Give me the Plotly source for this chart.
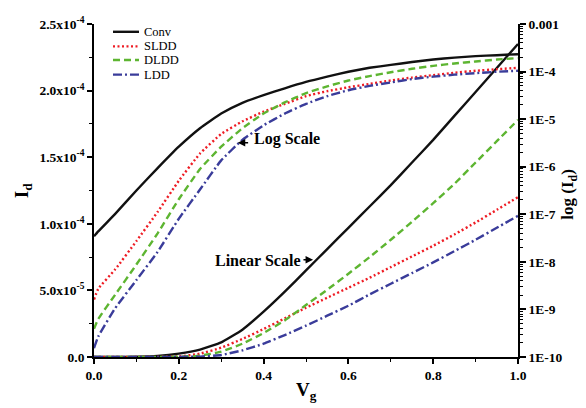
import plotly.graph_objects as go

# ---------------- data ----------------
vg_lin = [0.0, 0.05, 0.1, 0.15, 0.2, 0.25, 0.3, 0.35, 0.4, 0.45, 0.5,
          0.55, 0.6, 0.65, 0.7, 0.75, 0.8, 0.85, 0.9, 0.95, 1.0]
conv_lin = [0, 0, 2e-7, 8e-7, 2.5e-6, 5.5e-6, 1.1e-5, 2.05e-5, 3.4e-5, 4.9e-5, 6.5e-5,
            8.1e-5, 9.7e-5, 1.13e-4, 1.29e-4, 1.46e-4, 1.63e-4, 1.81e-4, 1.99e-4, 2.17e-4, 2.35e-4]
sldd_lin = [0, 0, 0, 1e-7, 4e-7, 2.5e-6, 7e-6, 1.35e-5, 2.1e-5, 2.9e-5, 3.7e-5,
            4.45e-5, 5.2e-5, 5.95e-5, 6.75e-5, 7.55e-5, 8.35e-5, 9.2e-5, 1.01e-4, 1.105e-4, 1.2e-4]
dldd_lin = [0, 0, 0, 0, 2e-7, 1e-6, 4e-6, 1.0e-5, 1.8e-5, 2.75e-5, 3.9e-5,
            5.05e-5, 6.25e-5, 7.5e-5, 8.8e-5, 1.015e-4, 1.155e-4, 1.3e-4, 1.46e-4, 1.62e-4, 1.78e-4]
ldd_lin = [0, 0, 0, 0, 1e-7, 3e-7, 1.5e-6, 5e-6, 1.0e-5, 1.65e-5, 2.35e-5,
           3.1e-5, 3.85e-5, 4.7e-5, 5.5e-5, 6.3e-5, 7.1e-5, 7.95e-5, 8.8e-5, 9.7e-5, 1.06e-4]

vg_log = [0.0, 0.01, 0.05, 0.1, 0.15, 0.2, 0.25, 0.3, 0.35, 0.4, 0.45, 0.5,
          0.55, 0.6, 0.65, 0.7, 0.75, 0.8, 0.85, 0.9, 0.95, 1.0]
conv_log = [3.45e-8, 4.37e-8, 1.02e-7, 3.16e-7, 9.34e-7, 2.64e-6, 6.45e-6, 1.31e-5, 2.2e-5, 3.2e-5,
            4.45e-5, 6.05e-5, 7.83e-5, 9.92e-5, 1.2e-4, 1.38e-4, 1.59e-4, 1.79e-4, 1.966e-4,
            2.11e-4, 2.21e-4, 2.32e-4]
sldd_log = [1.61e-9, 2.71e-9, 6.95e-9, 2.73e-8, 1.12e-7, 5.06e-7, 1.89e-6, 4.86e-6, 8.97e-6, 1.44e-5,
            2.09e-5, 3.05e-5, 3.87e-5, 4.67e-5, 5.51e-5, 6.49e-5, 7.48e-5, 8.41e-5, 9.46e-5,
            1.04e-4, 1.12e-4, 1.2e-4]
dldd_log = [3.92e-10, 6.28e-10, 2.04e-9, 8.79e-9, 3.97e-8, 2.07e-7, 8.91e-7, 2.64e-6, 6.45e-6, 1.31e-5,
            2.25e-5, 3.52e-5, 4.89e-5, 6.49e-5, 8.03e-5, 9.69e-5, 1.143e-4, 1.32e-4, 1.48e-4,
            1.628e-4, 1.79e-4, 1.92e-4]
ldd_log = [1.53e-10, 2.69e-10, 1.06e-9, 4.14e-9, 1.62e-8, 8.05e-8, 3.31e-7, 1.36e-6, 3.66e-6, 7.43e-6,
           1.31e-5, 2.09e-5, 3.05e-5, 4.05e-5, 5.01e-5, 5.91e-5, 6.97e-5, 7.83e-5, 8.61e-5,
           9.25e-5, 9.92e-5, 1.04e-4]

names = ["Conv", "SLDD", "DLDD", "LDD"]
lin_series = [conv_lin, sldd_lin, dldd_lin, ldd_lin]
log_series = [conv_log, sldd_log, dldd_log, ldd_log]

left_tickvals = [0, 5e-5, 1e-4, 1.5e-4, 2e-4, 2.5e-4]
left_ticktext = ["0.0", "5.0x10<sup>-5</sup>", "1.0x10<sup>-4</sup>", "1.5x10<sup>-4</sup>",
                 "2.0x10<sup>-4</sup>", "2.5x10<sup>-4</sup>"]
right_tickvals = [1e-10, 1e-9, 1e-8, 1e-7, 1e-6, 1e-5, 1e-4, 1e-3]
right_ticktext = ["1E-10", "1E-9", "1E-8", "1E-7", "1E-6", "1E-5", "1E-4", "0.001"]
x_tickvals = [0, 0.2, 0.4, 0.6, 0.8, 1.0]
x_ticktext = ["0.0", "0.2", "0.4", "0.6", "0.8", "1.0"]

# minor tick positions on the log axis (2..9 within each decade)
right_minor = [k * 10.0 ** e for e in range(-10, -3) for k in range(2, 10)]

# ---------------- styles ----------------
colors = ["#111111", "#EE1C24", "#5DB531", "#3A3C9A"]
dashes = ["solid", "2px,2.5px", "7px,4px", "9px,3px,2px,3px"]
LW = 2.4
FONT = "Liberation Serif"

fig = go.Figure()
for i, n in enumerate(names):
    fig.add_trace(go.Scatter(
        x=vg_lin, y=lin_series[i], name=n, showlegend=False,
        mode="lines", line=dict(color=colors[i], width=LW, dash=dashes[i],
                                shape="spline", smoothing=0.4),
        yaxis="y"))
for i, n in enumerate(names):
    fig.add_trace(go.Scatter(
        x=vg_log, y=log_series[i], name=n, showlegend=False,
        mode="lines", line=dict(color=colors[i], width=LW, dash=dashes[i],
                                shape="spline", smoothing=0.4),
        yaxis="y2"))

tickfont = dict(family=FONT, size=13.5, color="black", weight="bold")

fig.update_layout(
    width=578, height=400,
    margin=dict(l=86, r=68, t=7, b=51),
    paper_bgcolor="white", plot_bgcolor="white",
    showlegend=False,
    xaxis=dict(range=[0, 1.0], tickvals=x_tickvals, ticktext=x_ticktext,
               ticks="outside", ticklen=5, tickwidth=1.5, tickcolor="black",
               showline=True, linecolor="black", linewidth=1.8, showgrid=False,
               zeroline=False, tickfont=tickfont, ticklabeloverflow="allow",
               minor=dict(tickvals=[0.1, 0.3, 0.5, 0.7, 0.9], ticks="outside",
                          ticklen=3, tickwidth=1.2, tickcolor="black")),
    yaxis=dict(range=[0, 2.5e-4], tickvals=left_tickvals, ticktext=left_ticktext,
               ticks="outside", ticklen=5, tickwidth=1.5, tickcolor="black",
               showline=True, linecolor="black", linewidth=1.8, showgrid=False,
               zeroline=False, tickfont=tickfont, ticklabeloverflow="allow",
               minor=dict(tickvals=[2.5e-5, 7.5e-5, 1.25e-4, 1.75e-4, 2.25e-4],
                          ticks="outside", ticklen=3, tickwidth=1.2, tickcolor="black")),
    yaxis2=dict(type="log", range=[-10, -3], overlaying="y", side="right",
                tickvals=right_tickvals, ticktext=right_ticktext,
                ticks="outside", ticklen=6, tickwidth=1.5, tickcolor="black",
                showline=True, linecolor="black", linewidth=1.8, showgrid=False,
                zeroline=False, tickfont=tickfont, ticklabeloverflow="allow",
                minor=dict(tickvals=right_minor, ticks="outside", ticklen=3, tickwidth=1,
                           tickcolor="black")),
)

# manual legend (compact spacing like the reference)
leg_y = [0.9766, 0.9327, 0.8918, 0.848]
for i, n in enumerate(names):
    fig.add_shape(type="line", xref="paper", yref="paper",
                  x0=0.0448, x1=0.1061, y0=leg_y[i], y1=leg_y[i],
                  line=dict(color=colors[i], width=LW, dash=dashes[i]))
    fig.add_annotation(text=n, xref="paper", yref="paper", x=0.1132, y=leg_y[i],
                       xanchor="left", yanchor="middle", showarrow=False,
                       font=dict(family=FONT, size=12.5, color="black"))

fig.add_annotation(text="I<sub>d</sub>", xref="paper", yref="paper", x=-0.168, y=0.5,
                   xanchor="center", yanchor="middle", textangle=-90, showarrow=False,
                   font=dict(family=FONT, size=19, color="black", weight="bold"))
fig.add_annotation(text="V<sub>g</sub>", xref="paper", yref="paper", x=0.5, y=-0.061,
                   xanchor="center", yanchor="top", showarrow=False,
                   font=dict(family=FONT, size=19, color="black", weight="bold"))
fig.add_annotation(text="log (I<sub>d</sub>)", xref="paper", yref="paper", x=1.12, y=0.49,
                   xanchor="center", yanchor="middle", textangle=-90, showarrow=False,
                   font=dict(family=FONT, size=17, color="black", weight="bold"))

ann_font = dict(family=FONT, size=16, color="black", weight="bold")
fig.add_annotation(text="Log Scale", x=0.372, y=1.637e-4, xref="x", yref="y",
                   xanchor="left", yanchor="middle", showarrow=False, font=ann_font)
fig.add_annotation(x=0.339, y=1.608e-4, ax=0.367, ay=1.608e-4, xref="x", yref="y",
                   axref="x", ayref="y", text="", showarrow=True,
                   arrowhead=2, arrowsize=1, arrowwidth=1.5, arrowcolor="black")
fig.add_annotation(text="Linear Scale", x=0.280, y=7.24e-5, xref="x", yref="y",
                   xanchor="left", yanchor="middle", showarrow=False, font=ann_font)
fig.add_annotation(x=0.5166, y=7.31e-5, ax=0.4905, ay=7.31e-5, xref="x", yref="y",
                   axref="x", ayref="y", text="", showarrow=True,
                   arrowhead=2, arrowsize=1, arrowwidth=1.5, arrowcolor="black")

fig.write_html("out.html")
